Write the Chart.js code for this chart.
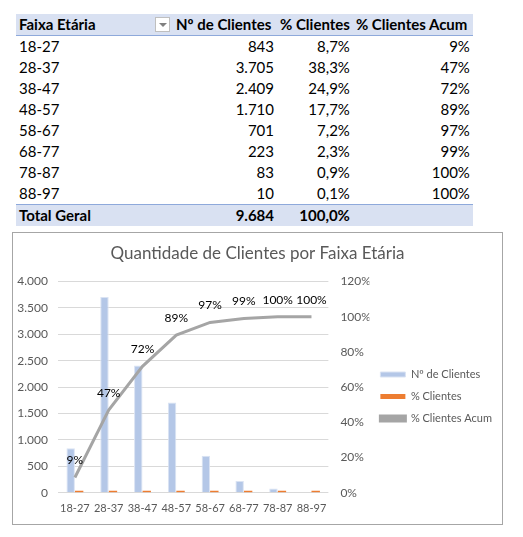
<!DOCTYPE html>
<html lang="pt-BR">
<head>
<meta charset="utf-8">
<title>Quantidade de Clientes por Faixa Etária</title>
<script src="https://cdn.jsdelivr.net/npm/chart.js@4.4.1/dist/chart.umd.min.js"></script>
<style>
  body { margin: 0; background: #fff; font-family: Lato, "Noto Sans", sans-serif; }
  #tabela { position: absolute; left: 16px; top: 14px; border-collapse: collapse; table-layout: fixed; font-size: 15px; color: #000; }
  #tabela td, #tabela th { height: 21px; padding: 0 3px; white-space: nowrap; line-height: 21px; }
  #tabela th { background: #d9e1f2; font-weight: bold; text-align: left; border-bottom: 1px solid #8ea9db; overflow: visible; }
  #tabela td.num { text-align: right; }
  #tabela tr.total td { background: #d9e1f2; font-weight: bold; border-top: 1px solid #8ea9db; }
  .filtro { position: absolute; left: 139px; top: 3px; width: 13px; height: 13px; border: 1px solid #bfbfbf; background: #fff; }
  .filtro:after { content: ''; position: absolute; left: 3px; top: 5px; border-left: 4px solid transparent; border-right: 4px solid transparent; border-top: 4px solid #808080; }
  #caixa { position: absolute; left: 12px; top: 232px; width: 491px; height: 293px; border: 1px solid #a6a6a6; box-sizing: border-box; }
  #area { position: relative; width: 489px; height: 291px; }
</style>
</head>
<body>
<table id="tabela">
  <colgroup><col style="width:157px"><col style="width:104px"><col style="width:72px"><col style="width:120px"></colgroup>
  <thead>
    <tr>
      <th style="position:relative">Faixa Etária<span class="filtro"></span></th>
      <th>Nº de Clientes</th>
      <th>% Clientes</th>
      <th>% Clientes Acum</th>
    </tr>
  </thead>
  <tbody id="corpo"></tbody>
</table>

<div id="caixa"><div id="area"><canvas id="grafico"></canvas></div></div>

<script>
// Dados da tabela dinâmica
const faixas = ['18-27', '28-37', '38-47', '48-57', '58-67', '68-77', '78-87', '88-97'];
const numClientes = [843, 3705, 2409, 1710, 701, 223, 83, 10];
const pctClientes = [0.087, 0.383, 0.249, 0.177, 0.072, 0.023, 0.009, 0.001];
const pctAcum = [0.087, 0.470, 0.718, 0.8949, 0.967, 0.990, 0.999, 1.0];
const totalClientes = 9684;
const totalPct = 1.0;

// Eixos
const ticksClientes = { min: 0, max: 4000, passo: 500 };
const ticksPct = { min: 0, max: 1.2, passo: 0.2 };

function fmtMilhar(n) {
    return String(n).replace(/\B(?=(\d{3})+(?!\d))/g, '.');
}
function fmtPct1(v) {
    return (v * 100).toFixed(1).replace('.', ',') + '%';
}
function fmtPct0(v) {
    return Math.round(v * 100) + '%';
}

// Monta a tabela
const corpo = document.getElementById('corpo');
faixas.forEach(function(f, i) {
    const tr = document.createElement('tr');
    tr.innerHTML = '<td>' + f + '</td><td class="num">' + fmtMilhar(numClientes[i]) +
        '</td><td class="num">' + fmtPct1(pctClientes[i]) + '</td><td class="num">' + fmtPct0(pctAcum[i]) + '</td>';
    corpo.appendChild(tr);
});
const trTotal = document.createElement('tr');
trTotal.className = 'total';
trTotal.innerHTML = '<td>Total Geral</td><td class="num">' + fmtMilhar(totalClientes) +
    '</td><td class="num">' + fmtPct1(totalPct) + '</td><td></td>';
corpo.appendChild(trTotal);

// Rótulos sobre a linha acumulada
const rotulosAcum = {
    id: 'rotulosAcum',
    afterDatasetsDraw(chart) {
        const meta = chart.getDatasetMeta(2);
        const ctx = chart.ctx;
        ctx.save();
        ctx.font = '12px Lato';
        ctx.fillStyle = '#000';
        ctx.textAlign = 'center';
        ctx.textBaseline = 'middle';
        meta.data.forEach(function(pt, i) {
            ctx.fillText(fmtPct0(pctAcum[i]), pt.x, pt.y - 17);
        });
        ctx.restore();
    }
};

const corTexto = '#595959';
const ctxGraf = document.getElementById('grafico').getContext('2d');
const grafico = new Chart(ctxGraf, {
    type: 'bar',
    data: {
        labels: faixas,
        datasets: [{
            label: 'Nº de Clientes',
            data: numClientes,
            backgroundColor: '#b4c7e7',
            borderColor: '#dae3f3',
            borderWidth: 1,
            yAxisID: 'y',
            categoryPercentage: 0.5,
            barPercentage: 1.0,
            order: 1
        }, {
            label: '% Clientes',
            data: pctClientes,
            backgroundColor: '#ed7d31',
            yAxisID: 'y',
            minBarLength: 2,
            categoryPercentage: 0.5,
            barPercentage: 1.0,
            order: 1
        }, {
            type: 'line',
            label: '% Clientes Acum',
            data: pctAcum,
            borderColor: '#a5a5a5',
            backgroundColor: '#a5a5a5',
            borderWidth: 3,
            pointRadius: 0,
            tension: 0,
            yAxisID: 'y1',
            order: 0
        }]
    },
    options: {
        responsive: true,
        maintainAspectRatio: false,
        animation: false,
        layout: { padding: { left: 0, right: 0, top: 0, bottom: 0 } },
        plugins: {
            title: {
                display: true,
                text: 'Quantidade de Clientes por Faixa Etária',
                color: corTexto,
                font: { family: 'Lato', size: 17, weight: 'normal' },
                padding: { top: 10, bottom: 18 }
            },
            legend: {
                position: 'right',
                maxWidth: 200,
                title: { display: true, text: ' ', font: { size: 10 }, padding: { top: 12, bottom: 12 } },
                labels: {
                    color: corTexto,
                    font: { family: 'Lato', size: 11 },
                    boxWidth: 25,
                    boxHeight: 5,
                    padding: 11,
                    sort: function(a, b) { return a.datasetIndex - b.datasetIndex; }
                }
            },
            tooltip: { enabled: false }
        },
        scales: {
            x: {
                grid: { display: false, drawTicks: false },
                border: { display: false },
                ticks: { color: corTexto, font: { family: 'Lato', size: 11 }, padding: 9, autoSkip: false, maxRotation: 0 }
            },
            y: {
                position: 'left',
                min: ticksClientes.min,
                max: ticksClientes.max,
                grid: { color: '#d9d9d9', drawTicks: false },
                border: { display: false },
                ticks: {
                    stepSize: ticksClientes.passo,
                    color: corTexto,
                    font: { family: 'Lato', size: 12 },
                    padding: 10,
                    callback: function(v) { return fmtMilhar(v); }
                },
                afterFit: function(s) { s.width = 45; }
            },
            y1: {
                position: 'right',
                min: ticksPct.min,
                max: ticksPct.max,
                grid: { display: false, drawTicks: false },
                border: { display: false },
                ticks: {
                    stepSize: ticksPct.passo,
                    color: corTexto,
                    font: { family: 'Lato', size: 12 },
                    padding: 12,
                    callback: function(v) { return fmtPct0(v); }
                },
                afterFit: function(s) { s.width = 41; }
            }
        }
    },
    plugins: [rotulosAcum]
});
</script>
</body>
</html>
